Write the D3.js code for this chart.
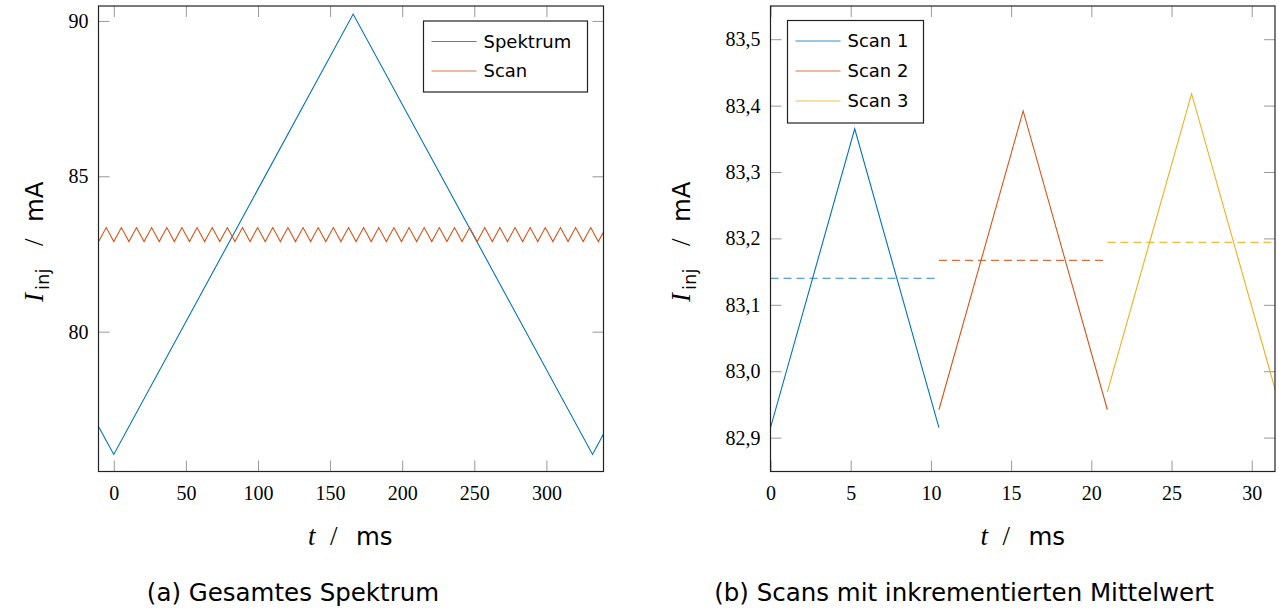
<!DOCTYPE html>
<html>
<head>
<meta charset="utf-8">
<script src="https://cdn.jsdelivr.net/npm/d3@7"></script>
<style>
  body { margin: 0; background: #fff; }
  svg { display: block; }
</style>
</head>
<body>
<div id="chart"></div>
<script>
// --- data ---
// (a) Gesamtes Spektrum
const spekT = [-10.6, 0, 166, 332, 339.6];
const spekI = [76.95, 76.05, 90.22, 76.05, 76.71];

const scanT = [-10.5, -5.25, 0, 5.25, 10.5, 15.75, 21, 26.25, 31.5, 36.75, 42, 47.25, 52.5, 57.75,
  63, 68.25, 73.5, 78.75, 84, 89.25, 94.5, 99.75, 105, 110.25, 115.5, 120.75, 126, 131.25,
  136.5, 141.75, 147, 152.25, 157.5, 162.75, 168, 173.25, 178.5, 183.75, 189, 194.25,
  199.5, 204.75, 210, 215.25, 220.5, 225.75, 231, 236.25, 241.5, 246.75, 252, 257.25,
  262.5, 267.75, 273, 278.25, 283.5, 288.75, 294, 299.25, 304.5, 309.75, 315, 320.25,
  325.5, 330.75, 336, 341.25];
const scanI = [82.9, 83.35, 82.9, 83.35, 82.9, 83.35, 82.9, 83.35, 82.9, 83.35, 82.9, 83.35, 82.9, 83.35,
  82.9, 83.35, 82.9, 83.35, 82.9, 83.35, 82.9, 83.35, 82.9, 83.35, 82.9, 83.35, 82.9, 83.35,
  82.9, 83.35, 82.9, 83.35, 82.9, 83.35, 82.9, 83.35, 82.9, 83.35, 82.9, 83.35,
  82.9, 83.35, 82.9, 83.35, 82.9, 83.35, 82.9, 83.35, 82.9, 83.35, 82.9, 83.35,
  82.9, 83.35, 82.9, 83.35, 82.9, 83.35, 82.9, 83.35, 82.9, 83.35, 82.9, 83.35,
  82.9, 83.35, 82.9, 83.35];

// (b) Scans mit inkrementierten Mittelwert
const scan1T = [0, 5.25, 10.5];
const scan1I = [82.915, 83.365, 82.915];
const scan2T = [10.5, 15.75, 21];
const scan2I = [82.942, 83.392, 82.942];
const scan3T = [21, 26.25, 31.5];
const scan3I = [82.969, 83.418, 82.969];
const meanT = [[0, 10.5], [10.5, 21], [21, 31.5]];
const meanI = [83.14, 83.167, 83.194];

const ticksA_x = [0, 50, 100, 150, 200, 250, 300];
const ticksA_y = [80, 85, 90];
const ticksB_x = [0, 5, 10, 15, 20, 25, 30];
const ticksB_y = [82.9, 83.0, 83.1, 83.2, 83.3, 83.4, 83.5];

const blue = "#0072bd", orange = "#d95319", yellow = "#edb120";
const SANS = "'DejaVu Sans', sans-serif";
const SERIF = "'Liberation Serif', 'Times New Roman', 'DejaVu Serif', serif";

const W = 1279, H = 612;
const svg = d3.select("#chart").append("svg").attr("width", W).attr("height", H);

function zip(ts, vs) { return ts.map((t, i) => [t, vs[i]]); }

function panel(opts) {
  const { left, top, width, height, xDomain, yDomain, xTicks, yTicks, yFmt, id } = opts;
  const x = d3.scaleLinear().domain(xDomain).range([0, width]);
  const y = d3.scaleLinear().domain(yDomain).range([height, 0]);
  const g = svg.append("g").attr("transform", "translate(" + left + "," + top + ")");

  g.append("clipPath").attr("id", id).append("rect")
    .attr("width", width).attr("height", height);

  // ticks, inward on all four sides
  const tl = 11;
  const axes = [
    [d3.axisBottom(x).tickValues(xTicks).tickSize(-tl).tickPadding(14).tickFormat(d3.format("d")), 0, height],
    [d3.axisTop(x).tickValues(xTicks).tickSize(-tl).tickFormat(""), 0, 0],
    [d3.axisLeft(y).tickValues(yTicks).tickSize(-tl).tickPadding(10).tickFormat(yFmt), 0, 0],
    [d3.axisRight(y).tickValues(yTicks).tickSize(-tl).tickFormat(""), width, 0]
  ];
  axes.forEach(a => {
    const ag = g.append("g").attr("transform", "translate(" + a[1] + "," + a[2] + ")").call(a[0]);
    ag.select(".domain").remove();
    ag.selectAll(".tick line").attr("stroke", "#999").attr("stroke-width", 1);
    ag.selectAll(".tick text").style("font-family", SERIF).style("font-size", "20px").attr("fill", "#000");
  });

  const plot = g.append("g").attr("clip-path", "url(#" + id + ")");
  g.append("rect").attr("width", width).attr("height", height)
    .attr("fill", "none").attr("stroke", "#222").attr("stroke-width", 1.2);

  return { x, y, g, plot };
}

const line = (p) => d3.line().x(d => p.x(d[0])).y(d => p.y(d[1]));

// ---------- panel (a) ----------
const pa = panel({
  id: "clipA", left: 98.5, top: 6, width: 505, height: 465.5,
  xDomain: [-10.6, 339.6], yDomain: [75.5, 90.48],
  xTicks: ticksA_x, yTicks: ticksA_y, yFmt: d3.format("d")
});
pa.plot.append("path").datum(zip(spekT, spekI)).attr("d", line(pa))
  .attr("fill", "none").attr("stroke", blue).attr("stroke-width", 1.1);
pa.plot.append("path").datum(zip(scanT, scanI)).attr("d", line(pa))
  .attr("fill", "none").attr("stroke", orange).attr("stroke-width", 1.1);

// ---------- panel (b) ----------
const commaFmt = d => d3.format(".1f")(d).replace(".", ",");
const pb = panel({
  id: "clipB", left: 770.5, top: 6, width: 504.5, height: 465.5,
  xDomain: [0, 31.45], yDomain: [82.849, 83.55],
  xTicks: ticksB_x, yTicks: ticksB_y, yFmt: commaFmt
});
const scansB = [[scan1T, scan1I, blue], [scan2T, scan2I, orange], [scan3T, scan3I, yellow]];
scansB.forEach((s, i) => {
  pb.plot.append("path").datum(zip(meanT[i], [meanI[i], meanI[i]])).attr("d", line(pb))
    .attr("fill", "none").attr("stroke", s[2]).attr("stroke-width", 1.1)
    .attr("stroke-dasharray", "8,5").attr("opacity", 0.85);
  pb.plot.append("path").datum(zip(s[0], s[1])).attr("d", line(pb))
    .attr("fill", "none").attr("stroke", s[2]).attr("stroke-width", 1.1);
});

// ---------- legends ----------
function legend(lx, ly, w, h, items, rowY) {
  const lg = svg.append("g").attr("transform", "translate(" + lx + "," + ly + ")");
  lg.append("rect").attr("width", w).attr("height", h)
    .attr("fill", "#fff").attr("stroke", "#222").attr("stroke-width", 1.2);
  items.forEach((it, i) => {
    const yy = rowY[i];
    lg.append("line").attr("x1", 8).attr("x2", 53).attr("y1", yy).attr("y2", yy)
      .attr("stroke", it[1]).attr("stroke-width", 1.1).attr("opacity", 0.8);
    lg.append("text").attr("x", 60).attr("y", yy).attr("dy", "0.36em")
      .style("font-family", SANS).style("font-size", "18px").text(it[0]);
  });
}
legend(423.5, 21, 164, 71, [["Spektrum", blue], ["Scan", orange]], [20.5, 50]);
legend(787.5, 20.5, 136, 102.5, [["Scan 1", blue], ["Scan 2", orange], ["Scan 3", yellow]], [20.5, 50.5, 80.5]);

// ---------- axis labels ----------
function xLabel(x0) {
  const g = svg.append("g").attr("transform", "translate(" + x0 + ",545)");
  g.append("text").attr("x", 0).style("font-family", SERIF).style("font-style", "italic")
    .style("font-size", "27px").text("t");
  g.append("text").attr("x", 22).style("font-family", SERIF).style("font-size", "27px").text("/");
  g.append("text").attr("x", 48).style("font-family", SANS).style("font-size", "24.5px").text("ms");
}
function yLabel(bx) {
  const g = svg.append("g").attr("transform", "translate(" + bx + ",302) rotate(-90)");
  g.append("text").attr("x", 0).style("font-family", SERIF).style("font-style", "italic")
    .style("font-size", "27px").text("I");
  g.append("text").attr("x", 12).attr("y", 6).style("font-family", SANS)
    .style("font-size", "18px").text("inj");
  g.append("text").attr("x", 56).style("font-family", SERIF).style("font-size", "27px").text("/");
  g.append("text").attr("x", 80).style("font-family", SANS).style("font-size", "24.5px").text("mA");
}
xLabel(308);
xLabel(980.5);
yLabel(43);
yLabel(690);

// ---------- captions ----------
svg.append("text").attr("x", 293).attr("y", 601).attr("text-anchor", "middle")
  .style("font-family", SANS).style("font-size", "24.5px").text("(a) Gesamtes Spektrum");
svg.append("text").attr("x", 964).attr("y", 601).attr("text-anchor", "middle")
  .style("font-family", SANS).style("font-size", "24.5px").text("(b) Scans mit inkrementierten Mittelwert");
</script>
</body>
</html>
